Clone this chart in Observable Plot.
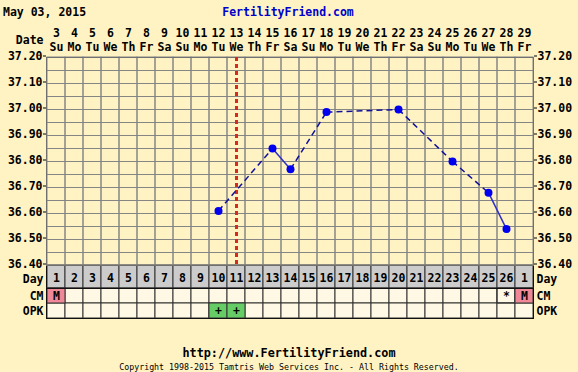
<!DOCTYPE html>
<html><head><meta charset="utf-8">
<script src="https://cdn.jsdelivr.net/npm/d3@7"></script>
<script src="https://cdn.jsdelivr.net/npm/@observablehq/plot@0.6"></script>
<style>
html,body{margin:0;padding:0;background:#fff3c4;}
#wrap{position:relative;width:578px;height:372px;overflow:hidden;font-family:"DejaVu Sans Mono",monospace;font-weight:bold;}
.abs{position:absolute;white-space:nowrap;}
</style></head><body><div id="wrap">
<div class="abs" style="left:3px;top:5px;font-size:11.5px;color:#000;">May 03, 2015</div>
<div class="abs" style="left:0;width:576px;text-align:center;top:5px;font-size:11.5px;color:#0000cc;">FertilityFriend.com</div>
<div class="abs" style="left:0;width:578px;text-align:center;top:346px;font-size:11.8px;color:#000;">http://www.FertilityFriend.com</div>
<div class="abs" style="left:0;width:578px;text-align:center;top:362px;font-size:8.3px;font-weight:normal;color:#000;">Copyright 1998-2015 Tamtris Web Services Inc. - All Rights Reserved.</div>
</div>
<script>
const dates = [3,4,5,6,7,8,9,10,11,12,13,14,15,16,17,18,19,20,21,22,23,24,25,26,27,28,29];
const weekdays = ["Su","Mo","Tu","We","Th","Fr","Sa","Su","Mo","Tu","We","Th","Fr","Sa","Su","Mo","Tu","We","Th","Fr","Sa","Su","Mo","Tu","We","Th","Fr"];
const cycleDays = [1,2,3,4,5,6,7,8,9,10,11,12,13,14,15,16,17,18,19,20,21,22,23,24,25,26,1];
const tempDates = [12,15,16,18,22,25,27,28];
const temps = [36.61,36.85,36.77,36.99,37.00,36.80,36.68,36.54];
const ovulationDates = [13];
const yTicks = [36.40,36.50,36.60,36.70,36.80,36.90,37.00,37.10,37.20];
const yGrid = [36.40,36.45,36.50,36.55,36.60,36.65,36.70,36.75,36.80,36.85,36.90,36.95,37.00,37.05,37.10,37.15,37.20];
const cmDates = [3,28,29];
const cmMarks = ["M","*","M"];
const opkDates = [12,13];
const opkMarks = ["+","+"];
const rowsLower = ["CM","OPK"];

const W = 578, ML = 46, MR = 45;
const xScale = {type:"band", domain: dates, padding:0, axis:null, label:null};
const font = {fontFamily:'"DejaVu Sans Mono", monospace', fontSize:"11.5px", fontWeight:"bold", background:"transparent", overflow:"visible", position:"absolute", left:"0px"};
const markFill = m => m === "M" ? "#f08898" : m === "+" ? "#66cc66" : "none";

const temp = tempDates.map((d,i)=>({d, t:temps[i]}));
const segs = temp.slice(1).map((p,i)=>({a:temp[i], b:p, gap: p.d - temp[i].d > 1}));

const wrap = document.getElementById("wrap");

const p2 = Plot.plot({
  width: W, height: 23, marginTop:0, marginBottom:0, marginLeft:ML, marginRight:MR,
  x: xScale, y:{type:"band", domain:["Day"], padding:0, axis:null, label:null},
  style: {...font, top:"265px"},
  marks:[
    Plot.cell(dates,{x:d=>d, y:()=>"Day", fill:"#cccccc", stroke:"#333"}),
    Plot.text(dates,{x:d=>d, y:()=>"Day", dy:1, text:(d,i)=>String(cycleDays[i]), fill:"#000"}),
    Plot.axisY({anchor:"left", tickSize:0, tickPadding:3, dy:2, label:null}),
    Plot.axisY({anchor:"right", tickSize:0, tickPadding:3, dy:2, label:null}),
    Plot.frame({stroke:"#111"})
  ]
});

const baseCells = rowsLower.flatMap(r => dates.map(d => ({d, r})));
const cmCells = cmDates.map((d,i)=>({d, r:"CM", m:cmMarks[i]}));
const opkCells = opkDates.map((d,i)=>({d, r:"OPK", m:opkMarks[i]}));
const marked = cmCells.concat(opkCells);

const p3 = Plot.plot({
  width: W, height: 30, marginTop:0, marginBottom:0, marginLeft:ML, marginRight:MR,
  x: xScale, y:{type:"band", domain:rowsLower, padding:0, axis:null, label:null},
  style: {...font, top:"288px"},
  marks:[
    Plot.cell(baseCells,{x:"d", y:"r", fill:"#fff8e4", stroke:"#333"}),
    Plot.cell(marked,{x:"d", y:"r", fill:d=>markFill(d.m), stroke:"#333"}),
    Plot.text(marked,{x:"d", y:"r", text:"m", fill:"#000"}),
    Plot.axisY({anchor:"left", tickSize:0, tickPadding:3, label:null}),
    Plot.axisY({anchor:"right", tickSize:0, tickPadding:3, label:null}),
    Plot.frame({stroke:"#111"})
  ]
});

const p1 = Plot.plot({
  width: W, height: 272, marginTop:57, marginBottom:7, marginLeft:ML, marginRight:MR,
  x: xScale, y:{domain:[36.4,37.2], axis:null, label:null},
  style: {...font, top:"0px"},
  marks:[
    Plot.ruleY(yGrid,{stroke:"#858585", strokeWidth:1}),
    Plot.cell(dates,{x:d=>d, stroke:"#858585", fill:"none"}),
    Plot.frame({stroke:"#707070"}),
    Plot.axisY(yTicks,{anchor:"left", tickSize:3, tickPadding:1, dy:-1.5, tickFormat:d3.format(".2f"), label:null}),
    Plot.axisY(yTicks,{anchor:"right", tickSize:3, tickPadding:1, dy:-1.5, tickFormat:d3.format(".2f"), label:null}),
    Plot.axisX({anchor:"top", tickSize:0, tickPadding:21, tickFormat:d=>String(d), label:null}),
    Plot.axisX({anchor:"top", tickSize:0, tickPadding:6.5, tickFormat:d=>weekdays[dates.indexOf(d)], label:null}),
    Plot.text(["Date"],{frameAnchor:"top-left", dx:-3, dy:-22, textAnchor:"end", fill:"#000"}),
    Plot.ruleX(ovulationDates,{x:d=>d, stroke:"#d42a1f", strokeWidth:3, strokeDasharray:"4,3"}),
    Plot.link(segs.filter(s=>s.gap),{x1:s=>s.a.d, y1:s=>s.a.t, x2:s=>s.b.d, y2:s=>s.b.t, stroke:"#10109a", strokeWidth:1.5, strokeDasharray:"6,4"}),
    Plot.link(segs.filter(s=>!s.gap),{x1:s=>s.a.d, y1:s=>s.a.t, x2:s=>s.b.d, y2:s=>s.b.t, stroke:"#3030c8", strokeWidth:1.5}),
    Plot.dot(temp,{x:"d", y:"t", r:4, fill:"#0000ee"})
  ]
});

wrap.appendChild(p2);
wrap.appendChild(p3);
wrap.appendChild(p1);
</script>
</body></html>
